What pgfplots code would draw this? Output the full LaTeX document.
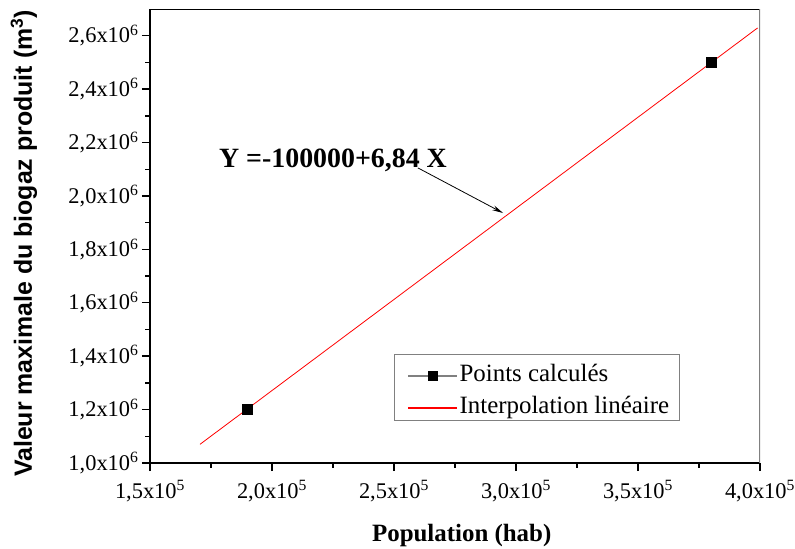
\documentclass[border=0pt]{standalone}
\usepackage{fontspec}
\setmainfont{Liberation Serif}
\newfontfamily\arialfont{Liberation Sans}
\usepackage{pgfplots}
\pgfplotsset{compat=1.18}
\usetikzlibrary{arrows.meta}
\begin{document}
\begin{tikzpicture}
\path[use as bounding box] (0,0) rectangle (795bp,549bp);
\begin{axis}[
  at={(150bp,86bp)}, anchor=south west,
  width=610bp, height=454bp, scale only axis,
  xmin=150000, xmax=400000, ymin=1000000, ymax=2700000,
  separate axis lines,
  axis x line*=bottom, axis y line*=left,
  x axis line style={-, line width=1.6bp},
  y axis line style={-, line width=1.6bp},
  tick align=outside,
  major tick length=8bp, minor tick length=4.5bp,
  every tick/.style={black, line width=1.4bp},
  xtick={150000,200000,250000,300000,350000,400000},
  xticklabels={{1,5x10\textsuperscript{5}},{2,0x10\textsuperscript{5}},{2,5x10\textsuperscript{5}},{3,0x10\textsuperscript{5}},{3,5x10\textsuperscript{5}},{4,0x10\textsuperscript{5}}},
  ytick={1000000,1200000,1400000,1600000,1800000,2000000,2200000,2400000,2600000},
  yticklabels={{1,0x10\textsuperscript{6}},{1,2x10\textsuperscript{6}},{1,4x10\textsuperscript{6}},{1,6x10\textsuperscript{6}},{1,8x10\textsuperscript{6}},{2,0x10\textsuperscript{6}},{2,2x10\textsuperscript{6}},{2,4x10\textsuperscript{6}},{2,6x10\textsuperscript{6}}},
  minor x tick num=1, minor y tick num=1,
  scaled ticks=false,
  tick label style={font=\fontsize{22.5}{26}\selectfont},
  xticklabel style={yshift=-6bp},
  xlabel={Population (hab)},
  xlabel style={font=\bfseries\fontsize{25}{29}\selectfont, at={(axis description cs:0.511,0)}, anchor=base, yshift=-78bp},
  ylabel={Valeur maximale du biogaz produit (m\textsuperscript{3})},
  ylabel style={font=\arialfont\bfseries\fontsize{25}{29}\selectfont, at={(axis description cs:-0.1935,0.4835)}, anchor=base},
  legend cell align=left,
  legend style={at={(0.4,0.240)}, anchor=north west, draw=gray, line width=0.8bp,
    font=\fontsize{25}{27}\selectfont, inner xsep=7bp, inner ysep=2bp, row sep=2bp,
    nodes={text height=24bp, text depth=4bp, inner ysep=1bp, inner xsep=3bp},
    cells={anchor=base west}},
]
\addplot[only marks, mark=square*, mark size=5bp, black,
  legend image code/.code={\path[draw=none] (0bp,6bp) -- (55bp,6bp);
    \fill[fill=gray, draw=gray, line width=0.3bp] (7bp,5.5bp) rectangle (55bp,6.5bp);
    \fill[fill=black, draw=black, line width=0.3bp] (27bp,1.5bp) rectangle (36bp,10.5bp);}]
  coordinates {(190000,1200000) (380000,2500000)};
\addlegendentry{Points calculés}
\addplot[red, line width=0.8bp,
  legend image code/.code={\path[draw=none] (0bp,6bp) -- (55bp,6bp);
    \fill[fill=red, draw=red, line width=0.4bp] (7bp,5.6bp) rectangle (55bp,6.4bp);}]
  coordinates {(170500,1070000) (399000,2629000)};
\addlegendentry{Interpolation linéaire}
\draw[black, line width=0.8bp] (rel axis cs:0,1) -- (rel axis cs:1,1);
\draw[gray, line width=1.2bp] (rel axis cs:1,1) -- (rel axis cs:1,0);
\node[font=\bfseries\fontsize{28}{32}\selectfont, anchor=base] at (axis cs:225000,2105000) {Y =-100000+6,84 X};
\draw[-{Stealth[length=11bp,width=5bp]}, line width=0.8bp] (axis cs:259800,2105000) -- (axis cs:294700,1936000);
\end{axis}
\end{tikzpicture}
\end{document}
